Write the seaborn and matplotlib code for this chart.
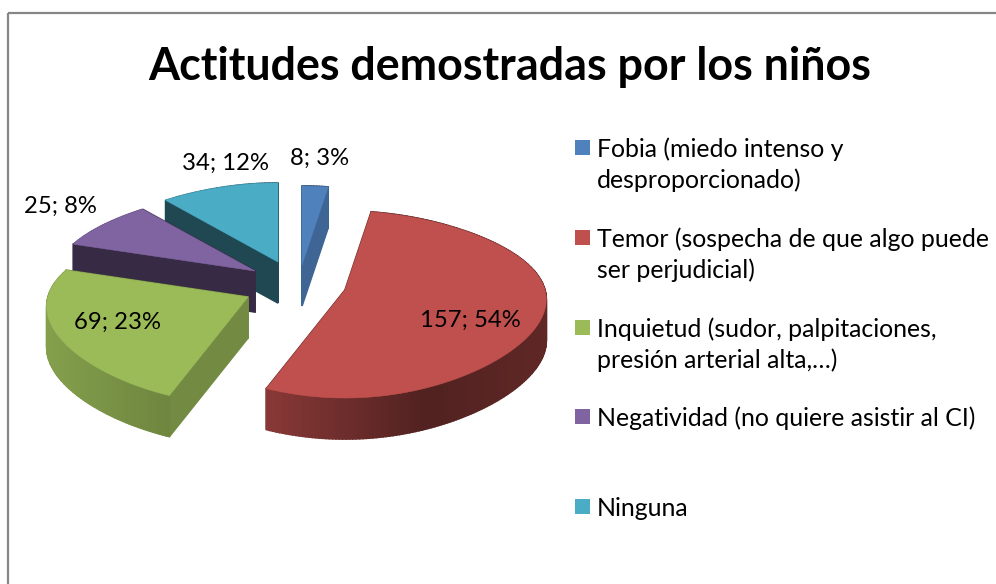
import numpy as np
import matplotlib
matplotlib.use("Agg")
import matplotlib.pyplot as plt
from matplotlib.patches import Rectangle
import seaborn as sns

# ---- data ----
categories = ["Fobia (miedo intenso y\ndesproporcionado)",
              "Temor (sospecha de que algo puede\nser perjudicial)",
              "Inquietud (sudor, palpitaciones,\npresión arterial alta,…)",
              "Negatividad (no quiere asistir al CI)",
              "Ninguna"]
values = [8, 157, 69, 25, 34]
percents = [3, 54, 23, 8, 12]
title = "Actitudes demostradas por los niños"

# ---- style / layout ----
colors = sns.color_palette(["#4F81BD", "#C0504D", "#9BBB59", "#8064A2", "#4BACC6"])
explode_dx = [7, 50, -47, -40, -17]
explode_dy = [-3, 22, 29, 3, -6]
radial_shade = [0.78, 0.55, 0.74, 0.42, 0.42]
draw_order = [4, 3, 0, 2, 1]
label_pos = [(320, 158), (470, 320), (117, 322), (60, 206), (225, 163)]
centre = (295, 268)
depth = 41

sns.set_theme(style="white")
plt.rcParams["font.family"] = ["Lato", "DejaVu Sans"]

fig = plt.figure(figsize=(9.96, 5.84), dpi=100, facecolor="white")
ax = fig.add_axes([0, 0, 1, 1])
ax.set_xlim(0, 996)
ax.set_ylim(584, 0)
ax.axis("off")

ax.add_patch(Rectangle((8, 13), 1100, 700, fill=False, ec="#868686", lw=1.6))


def project(angle):
    """Clockwise angle from the top to the tilted, foreshortened pie plane."""
    u, v = np.sin(angle), np.cos(angle)
    return u * (200 - 25 * v - 23 * v ** 2), -v * (93.5 - 14.5 * v)


def darker(color, factor):
    return tuple(c * factor for c in color)


def wall_shade(u):
    return np.interp(u, [-1, -0.4, 0.4, 1], [0.86, 0.72, 0.42, 0.5])


edges = np.deg2rad(np.concatenate([[0], np.cumsum(values)]) / sum(values) * 360)

for i in draw_order:
    theta = np.linspace(edges[i], edges[i + 1], max(int((edges[i + 1] - edges[i]) * 60), 4))
    tip_x = centre[0] + explode_dx[i]
    tip_y = centre[1] + explode_dy[i]
    px, py = project(theta)
    x = np.concatenate([[tip_x], tip_x + px])
    y = np.concatenate([[tip_y], tip_y + py])

    # side walls: back to front, then the top face
    quads = []
    for k in range(len(x)):
        n = (k + 1) % len(x)
        radial = k == 0 or n == 0
        shade = radial_shade[i] if radial else wall_shade(np.sin(theta[k - 1]))
        quads.append(((y[k] + y[n]) / 2, k, n, shade))
    for _, k, n, shade in sorted(quads, key=lambda q: q[0]):
        c = darker(colors[i], shade)
        ax.fill([x[k], x[n], x[n], x[k]],
                [y[k], y[n], y[n] + depth, y[k] + depth],
                color=c, lw=1.2, ec=c, zorder=2)
    ax.fill(x, y, color=colors[i], lw=0.4, ec=colors[i], zorder=2)

for i, (lx, ly) in enumerate(label_pos):
    ax.text(lx, ly, f"{values[i]}; {percents[i]}%", ha="center", va="center",
            fontsize=17.2, color="black", zorder=4)

ax.text(510, 67, title, ha="center", va="center", fontsize=32.3,
        fontweight="bold", color="black")

# legend
for i, name in enumerate(categories):
    ly = 149 + i * 89.8
    ax.add_patch(Rectangle((575, ly - 9), 15, 15, fc=colors[i], ec="none"))
    ax.text(597, ly - 11.5, name, ha="left", va="top", fontsize=17.9,
            linespacing=1.38, color="black")

fig.savefig("out.png", dpi=100)
